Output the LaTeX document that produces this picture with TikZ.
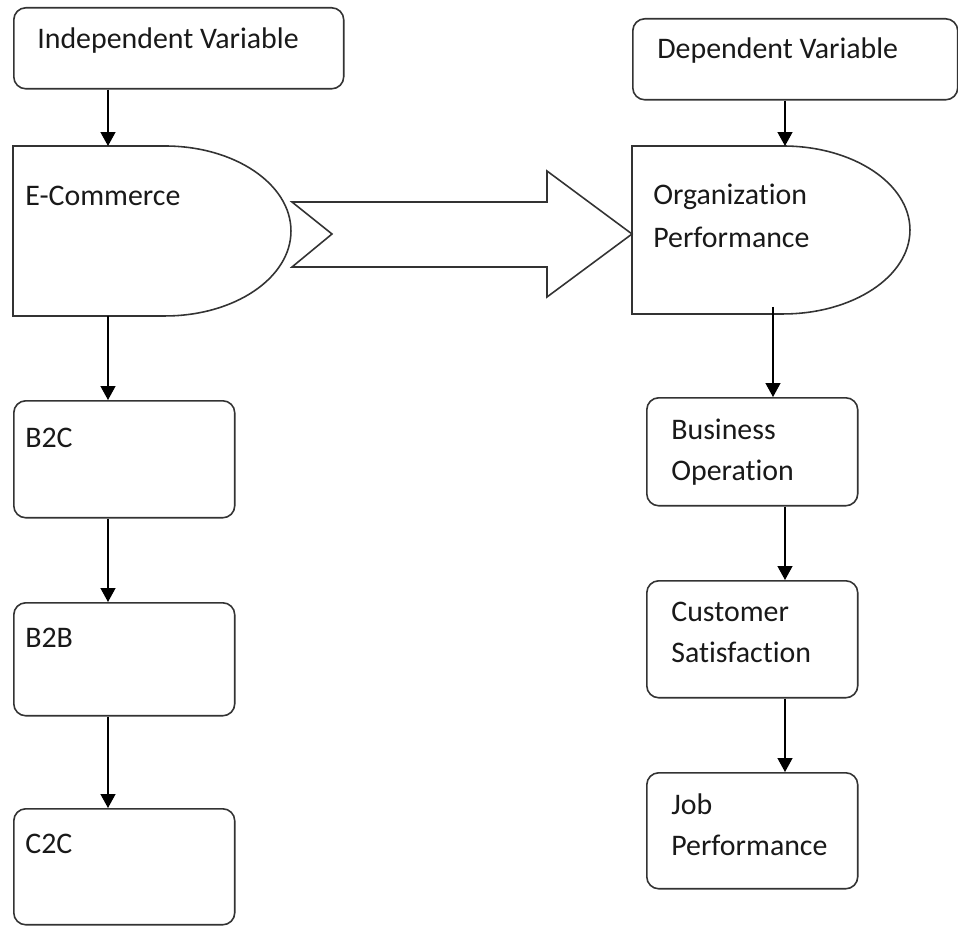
\documentclass[tikz,border=0pt]{standalone}
\usepackage{fontspec}
\setmainfont{Carlito}[Ligatures=NoCommon]
\usetikzlibrary{arrows.meta,positioning}
\tikzset{
  box/.style={draw=black!80, line width=0.9pt, rounded corners=0.24cm, inner sep=0pt, anchor=north west},
  delay/.style={draw=black!80, line width=0.9pt},
  txt/.style={anchor=base west, inner sep=0pt, align=left, text=black!90, font=\fontsize{17}{23}\selectfont},
  arr/.style={draw, line width=0.8pt, -{Triangle[width=0.3cm,length=0.28cm]}},
}
\begin{document}
\begin{tikzpicture}[x=0.02cm,y=-0.02cm]
  \useasboundingbox (0,0) rectangle (958,926);
  % left column
  \node[box, minimum width=6.6cm, minimum height=1.62cm] (indep) at (13,7) {};
  \node[txt] (tindep) at (37,49) {Independent Variable};
  \coordinate (ecomN) at (108,146);
  \coordinate (ecomS) at (108,316);
  \draw[delay] (13,146) -- (165,146) arc[start angle=90, end angle=-90, x radius=2.52cm, y radius=1.7cm] -- (13,316) -- cycle;
  \node[txt] (tecom) at (25,206) {E-Commerce};
  \node[box, minimum width=4.42cm, minimum height=2.34cm] (b2c) at (13,400) {};
  \node[txt] (tb2c) at (25,447) {B2C};
  \node[box, minimum width=4.42cm, minimum height=2.26cm] (b2b) at (13,602) {};
  \node[txt] (tb2b) at (25,647) {B2B};
  \node[box, minimum width=4.42cm, minimum height=2.32cm] (c2c) at (13,808) {};
  \node[txt] (tc2c) at (25,853) {C2C};
  % right column
  \node[box, minimum width=6.5cm, minimum height=1.62cm] (dep) at (632,18) {};
  \node[txt] (tdep) at (657,59) {Dependent Variable};
  \coordinate (orgN) at (785,146);
  \coordinate (orgS) at (773,307);
  \coordinate (col) at (785,0);
  \draw[delay] (632,146) -- (783,146) arc[start angle=90, end angle=-90, x radius=2.54cm, y radius=1.68cm] -- (632,314) -- cycle;
  \node[txt, font=\fontsize{17}{24.5}\selectfont] (torg) at (653,248) {Organization\\Performance};
  \node[box, minimum width=4.22cm, minimum height=2.16cm] (bus) at (646,397) {};
  \node[txt] (tbus) at (671,480) {Business\\Operation};
  \node[box, minimum width=4.22cm, minimum height=2.34cm] (cust) at (646,580) {};
  \node[txt] (tcust) at (671,662) {Customer\\Satisfaction};
  \node[box, minimum width=4.22cm, minimum height=2.32cm] (job) at (646,772) {};
  \node[txt] (tjob) at (671,855) {Job\\Performance};
  % block arrow
  \draw[delay] (292,202) -- (547,202) -- (547,171) -- (632,234) -- (547,297) -- (547,267) -- (292,267) -- (332,234) -- cycle;
  % connectors
  \draw[arr] (indep.south -| ecomN) -- (ecomN);
  \draw[arr] (ecomS) -- (ecomS |- b2c.north);
  \draw[arr] (b2c.south -| ecomS) -- (b2b.north -| ecomS);
  \draw[arr] (b2b.south -| ecomS) -- (c2c.north -| ecomS);
  \draw[arr] (dep.south -| col) -- (orgN);
  \draw[arr] (orgS) -- (orgS |- bus.north);
  \draw[arr] (bus.south -| col) -- (cust.north -| col);
  \draw[arr] (cust.south -| col) -- (job.north -| col);
\end{tikzpicture}
\end{document}
